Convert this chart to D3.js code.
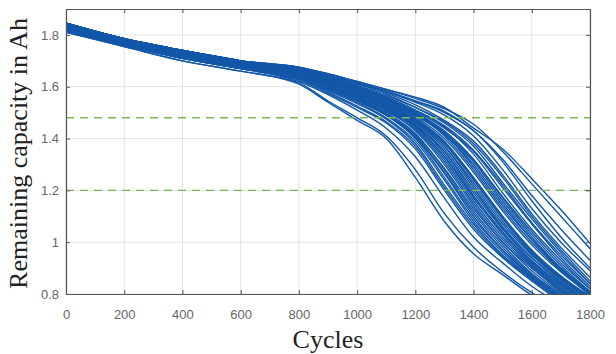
<!DOCTYPE html>
<html><head><meta charset="utf-8">
<script src="https://cdn.jsdelivr.net/npm/d3@7"></script>
<style>body{margin:0;background:#fff} svg{display:block}</style>
</head><body>
<svg id="chart" width="616" height="354"></svg>
<script>
// ---- data ----
const cycles = [0,200,400,600,800,900,1000,1100,1200,1300,1400,1500,1600,1700,1800];
const xTicks = [0,200,400,600,800,1000,1200,1400,1600,1800];
const yTicks = [0.8,1,1.2,1.4,1.6,1.8];
const thresholds = [1.48, 1.2];

const cell01 = [1.81,1.755,1.70,1.66,1.61,1.54,1.47,1.40,1.25,1.08,0.955,0.875,0.795,0.73,0.67];
const cell02 = [1.81,1.755,1.70,1.66,1.615,1.545,1.48,1.41,1.28,1.11,0.98,0.885,0.805,0.74,0.68];
const cell03 = [1.815,1.76,1.71,1.67,1.62,1.57,1.51,1.44,1.33,1.17,1.02,0.92,0.83,0.76,0.70];
const cell04 = [1.815,1.76,1.71,1.67,1.625,1.575,1.52,1.46,1.36,1.20,1.05,0.94,0.85,0.77,0.71];
const cell05 = [1.825,1.77,1.72,1.68,1.63,1.585,1.535,1.475,1.38,1.22,1.07,0.95,0.86,0.78,0.72];
const cell06 = [1.825,1.77,1.72,1.68,1.635,1.59,1.545,1.49,1.40,1.25,1.09,0.97,0.87,0.79,0.73];
const cell07 = [1.835,1.775,1.73,1.69,1.64,1.60,1.555,1.50,1.42,1.28,1.12,0.99,0.88,0.80,0.74];
const cell08 = [1.825,1.77,1.72,1.68,1.64,1.595,1.55,1.49,1.41,1.27,1.11,0.98,0.875,0.795,0.73];
const cell09 = [1.835,1.775,1.73,1.69,1.645,1.605,1.56,1.51,1.43,1.30,1.14,1.00,0.90,0.81,0.745];
const cell10 = [1.815,1.76,1.71,1.67,1.635,1.59,1.54,1.48,1.39,1.24,1.08,0.96,0.86,0.785,0.72];
const cell11 = [1.845,1.785,1.74,1.70,1.65,1.61,1.565,1.515,1.44,1.32,1.16,1.02,0.91,0.82,0.75];
const cell12 = [1.835,1.775,1.73,1.69,1.645,1.60,1.555,1.505,1.435,1.31,1.15,1.01,0.905,0.815,0.75];
const cell13 = [1.845,1.785,1.74,1.70,1.655,1.615,1.57,1.525,1.46,1.35,1.19,1.05,0.93,0.84,0.77];
const cell14 = [1.835,1.775,1.73,1.69,1.65,1.61,1.57,1.52,1.455,1.34,1.18,1.04,0.92,0.83,0.76];
const cell15 = [1.825,1.77,1.72,1.68,1.645,1.605,1.56,1.51,1.445,1.33,1.17,1.035,0.925,0.835,0.765];
const cell16 = [1.845,1.785,1.74,1.70,1.66,1.62,1.58,1.535,1.47,1.37,1.22,1.07,0.95,0.855,0.78];
const cell17 = [1.835,1.775,1.73,1.69,1.655,1.615,1.575,1.53,1.47,1.38,1.24,1.09,0.96,0.86,0.785];
const cell18 = [1.845,1.785,1.74,1.70,1.66,1.625,1.585,1.54,1.48,1.39,1.25,1.10,0.97,0.87,0.79];
const cell19 = [1.825,1.77,1.72,1.68,1.65,1.61,1.57,1.525,1.465,1.37,1.23,1.08,0.955,0.86,0.785];
const cell20 = [1.835,1.775,1.73,1.69,1.66,1.62,1.58,1.54,1.485,1.40,1.27,1.12,0.99,0.885,0.80];
const cell21 = [1.845,1.785,1.74,1.70,1.665,1.63,1.59,1.55,1.495,1.41,1.28,1.13,1.00,0.89,0.795];
const cell22 = [1.835,1.775,1.73,1.69,1.66,1.625,1.585,1.545,1.49,1.415,1.30,1.15,1.01,0.895,0.805];
const cell23 = [1.845,1.785,1.74,1.70,1.665,1.63,1.595,1.555,1.50,1.43,1.32,1.17,1.03,0.91,0.81];
const cell24 = [1.825,1.77,1.72,1.68,1.655,1.62,1.58,1.54,1.49,1.42,1.31,1.16,1.02,0.90,0.80];
const cell25 = [1.845,1.785,1.74,1.70,1.67,1.635,1.60,1.56,1.51,1.445,1.34,1.19,1.05,0.93,0.82];
const cell26 = [1.835,1.775,1.73,1.69,1.665,1.63,1.595,1.555,1.505,1.44,1.35,1.21,1.07,0.94,0.83];
const cell27 = [1.845,1.785,1.74,1.70,1.67,1.64,1.605,1.57,1.52,1.46,1.37,1.23,1.09,0.96,0.84];
const cell28 = [1.845,1.785,1.74,1.70,1.67,1.64,1.61,1.575,1.53,1.47,1.39,1.26,1.11,0.98,0.865];
const cell29 = [1.835,1.775,1.73,1.69,1.665,1.635,1.60,1.565,1.52,1.465,1.38,1.25,1.10,0.97,0.85];
const cell30 = [1.845,1.785,1.74,1.70,1.67,1.645,1.615,1.58,1.54,1.49,1.41,1.28,1.13,1.00,0.89];
const cell31 = [1.845,1.785,1.74,1.70,1.675,1.645,1.615,1.585,1.545,1.50,1.43,1.31,1.16,1.02,0.90];
const cell32 = [1.835,1.775,1.73,1.69,1.67,1.64,1.61,1.58,1.545,1.505,1.43,1.32,1.18,1.05,0.93];
const cell33 = [1.845,1.785,1.74,1.70,1.675,1.65,1.62,1.59,1.555,1.515,1.455,1.35,1.225,1.10,0.975];
const cell34 = [1.845,1.785,1.74,1.70,1.675,1.65,1.62,1.59,1.56,1.52,1.44,1.36,1.245,1.125,0.995];
const cell35 = [1.815,1.76,1.71,1.67,1.63,1.58,1.525,1.465,1.37,1.21,1.06,0.945,0.855,0.775,0.715];
const cell36 = [1.83,1.772,1.725,1.685,1.645,1.60,1.55,1.495,1.415,1.285,1.13,1.00,0.89,0.805,0.74];
const cell37 = [1.84,1.78,1.735,1.695,1.655,1.615,1.57,1.52,1.45,1.33,1.175,1.03,0.915,0.825,0.755];
const cell38 = [1.83,1.775,1.73,1.69,1.655,1.62,1.575,1.53,1.465,1.36,1.21,1.06,0.94,0.845,0.77];
const cell39 = [1.84,1.78,1.735,1.695,1.66,1.62,1.58,1.535,1.475,1.385,1.245,1.095,0.965,0.865,0.79];
const cell40 = [1.82,1.765,1.715,1.675,1.64,1.60,1.56,1.515,1.45,1.35,1.20,1.055,0.94,0.85,0.775];
const cell41 = [1.84,1.78,1.735,1.695,1.665,1.63,1.59,1.55,1.50,1.42,1.29,1.14,1.01,0.90,0.81];
const cell42 = [1.83,1.772,1.725,1.685,1.66,1.625,1.59,1.55,1.495,1.425,1.315,1.175,1.04,0.92,0.82];
const cell43 = [1.82,1.765,1.715,1.675,1.635,1.59,1.545,1.49,1.405,1.265,1.10,0.97,0.865,0.785,0.725];
const cell44 = [1.84,1.78,1.735,1.695,1.665,1.635,1.60,1.56,1.51,1.45,1.355,1.22,1.075,0.95,0.84];

const cells = [cell01,cell02,cell03,cell04,cell05,cell06,cell07,cell08,cell09,cell10,
  cell11,cell12,cell13,cell14,cell15,cell16,cell17,cell18,cell19,cell20,
  cell21,cell22,cell23,cell24,cell25,cell26,cell27,cell28,cell29,cell30,
  cell31,cell32,cell33,cell34,cell35,cell36,cell37,cell38,cell39,cell40,
  cell41,cell42,cell43,cell44];

// ---- drawing ----
const svg = d3.select('#chart');
const L = 66, R = 590, T = 9, B = 294;
const x = d3.scaleLinear().domain([0, 1800]).range([L, R]);
const y = d3.scaleLinear().domain([0.8, 1.9]).range([B, T]);

svg.append('defs').append('clipPath').attr('id', 'plotclip')
  .append('rect').attr('x', L).attr('y', T).attr('width', R - L).attr('height', B - T);

// grid
const grid = svg.append('g');
grid.selectAll('line.gx').data(xTicks).join('line')
  .attr('x1', d => x(d)).attr('x2', d => x(d)).attr('y1', T).attr('y2', B)
  .attr('stroke', '#e3e3e3').attr('stroke-width', 1);
grid.selectAll('line.gy').data(yTicks).join('line')
  .attr('x1', L).attr('x2', R).attr('y1', d => y(d)).attr('y2', d => y(d))
  .attr('stroke', '#e3e3e3').attr('stroke-width', 1);

// capacity curves
const line = d3.line().x((d, i) => x(cycles[i])).y(d => y(d)).curve(d3.curveMonotoneX);
svg.append('g').attr('clip-path', 'url(#plotclip)')
  .selectAll('path').data(cells).join('path')
  .attr('d', line)
  .attr('fill', 'none')
  .attr('stroke', '#1257a8')
  .attr('stroke-width', 1.4)
  .attr('stroke-linejoin', 'round');

// threshold lines
svg.append('g').selectAll('line').data(thresholds).join('line')
  .attr('x1', L).attr('x2', R).attr('y1', d => y(d)).attr('y2', d => y(d))
  .attr('stroke', '#7cb85a').attr('stroke-width', 1.4)
  .attr('stroke-dasharray', '8,6');

// axes
const tickFont = '"Liberation Sans Narrow","Liberation Sans",Arial,sans-serif';
function styleAxis(g) {
  g.select('.domain').attr('stroke', '#555').attr('stroke-width', 1.2);
  g.selectAll('.tick line').attr('stroke', '#555');
  g.selectAll('.tick text').attr('fill', '#666').attr('font-size', 13).attr('font-family', tickFont);
}
svg.append('g').attr('transform', `translate(0,${B})`)
  .call(d3.axisBottom(x).tickValues(xTicks).tickSize(-4).tickPadding(16).tickSizeOuter(0).tickFormat(d3.format('d')))
  .call(styleAxis);
svg.append('g').attr('transform', `translate(${L},0)`)
  .call(d3.axisLeft(y).tickValues(yTicks).tickSize(-4).tickPadding(7).tickSizeOuter(0).tickFormat(d => d === 1 ? '1' : d3.format('.1f')(d)))
  .call(styleAxis);
svg.append('g').attr('transform', `translate(0,${T})`)
  .call(d3.axisTop(x).tickValues(xTicks).tickSize(-4).tickSizeOuter(0).tickFormat(''))
  .call(styleAxis);
svg.append('g').attr('transform', `translate(${R},0)`)
  .call(d3.axisRight(y).tickValues(yTicks).tickSize(-4).tickSizeOuter(0).tickFormat(''))
  .call(styleAxis);

// axis titles
const titleFont = '"Liberation Serif","Times New Roman",serif';
svg.append('text').text('Cycles')
  .attr('x', (L + R) / 2).attr('y', 348)
  .attr('text-anchor', 'middle').attr('font-family', titleFont)
  .attr('font-size', 26).attr('fill', '#222');
svg.append('text').text('Remaining capacity in Ah')
  .attr('transform', `translate(27,${(T + B) / 2 + 2}) rotate(-90)`)
  .attr('text-anchor', 'middle').attr('font-family', titleFont)
  .attr('font-size', 26).attr('fill', '#222');
</script>
</body></html>
